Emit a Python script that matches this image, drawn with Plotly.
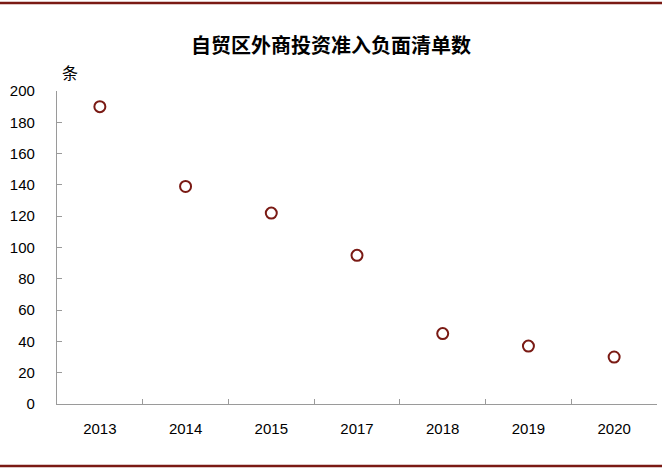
import plotly.graph_objects as go

years = ["2013", "2014", "2015", "2017", "2018", "2019", "2020"]
counts = [190, 139, 122, 95, 45, 37, 30]
y_ticks = list(range(0, 201, 20))

RED = "#7a1a14"
AXIS = "#9a9a9a"

fig = go.Figure()
fig.add_trace(go.Scatter(
    x=years, y=counts, mode="markers",
    marker=dict(symbol="circle-open", size=11, color=RED, line=dict(width=2, color=RED)),
    showlegend=False,
))

# plot area is 600 x 313 px
pw, ph = 600, 313
fig.update_layout(
    width=662, height=472,
    margin=dict(l=57, r=5, t=91, b=68),
    paper_bgcolor="white", plot_bgcolor="white",
    font=dict(family="Liberation Sans, Arial", size=15, color="#000000"),
    title=dict(text="<b>自贸区外商投资准入负面清单数</b>", x=0.5, xanchor="center",
               y=1 - 46 / 472, yanchor="middle",
               font=dict(family="Noto Sans CJK SC", size=20, color="#000000")),
    xaxis=dict(type="category", range=[-0.5, 6.5], showline=True, linecolor=AXIS, linewidth=1.2,
               ticks="inside", ticklen=5, tickcolor=AXIS, tickson="boundaries",
               showgrid=False, zeroline=False, ticklabelstandoff=11),
    yaxis=dict(range=[0, 200], tickvals=y_ticks, showline=True, linecolor=AXIS, linewidth=1.2,
               ticks="inside", ticklen=5, tickcolor=AXIS, showgrid=False, zeroline=False,
               ticklabelstandoff=18),
    annotations=[dict(text="条", xref="paper", yref="paper", x=13 / pw, y=(404 - 72) / ph,
                      xanchor="center", yanchor="middle", showarrow=False,
                      font=dict(family="Noto Sans CJK SC", size=16, color="#000000"))],
    shapes=[
        dict(type="line", xref="paper", yref="paper", x0=-57 / pw, x1=1 + 5 / pw,
             y0=(404 - 3) / ph, y1=(404 - 3) / ph, line=dict(color=RED, width=2.5)),
        dict(type="line", xref="paper", yref="paper", x0=-57 / pw, x1=1 + 5 / pw,
             y0=(404 - 466) / ph, y1=(404 - 466) / ph, line=dict(color=RED, width=2.5)),
    ],
)

fig.write_html("out.html", config={"displayModeBar": False},
               post_script="document.body.style.margin='0';")
